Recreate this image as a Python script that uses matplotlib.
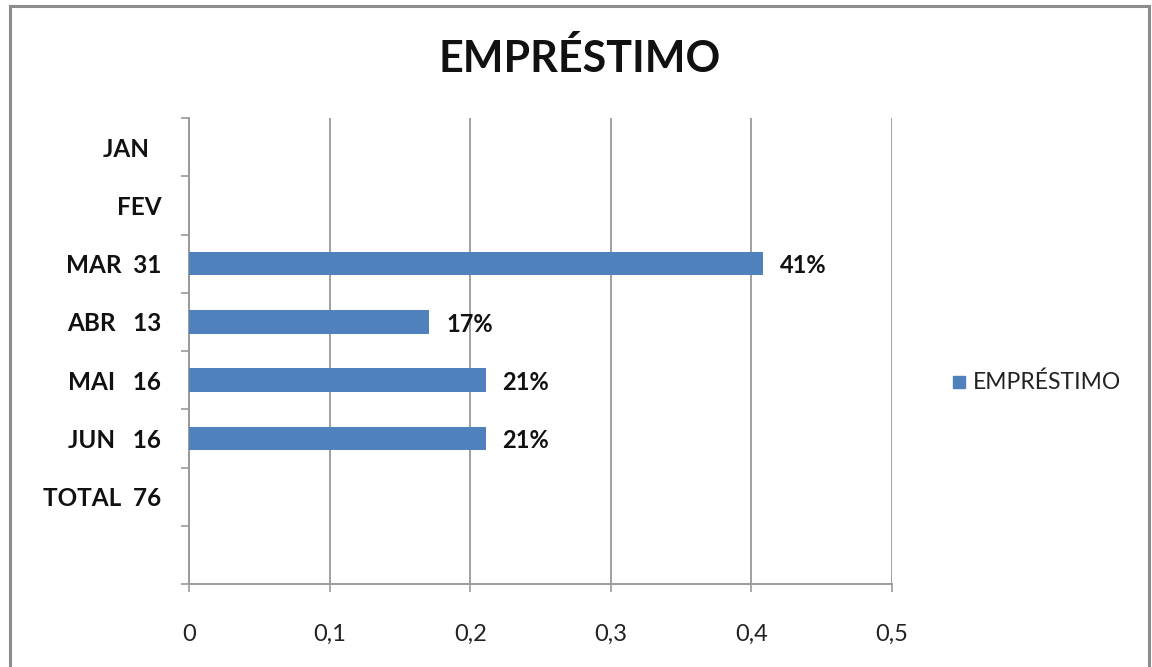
import matplotlib
matplotlib.use("Agg")
import matplotlib.pyplot as plt
from matplotlib.patches import Rectangle
from matplotlib.ticker import FixedLocator, FuncFormatter

# Chart data
categories = ["JAN  ", "FEV", "MAR  31", "ABR   13", "MAI   16", "JUN   16", "TOTAL  76", ""]
shares = [None, None, 0.408, 0.171, 0.211, 0.211, None, None]
x_ticks = [0, 0.1, 0.2, 0.3, 0.4, 0.5]
title = "EMPRÉSTIMO"
series_name = "EMPRÉSTIMO"

BAR_COLOR = "#4F81BD"
GRID_COLOR = "#868686"
AXIS_COLOR = "#9a9a9a"
FRAME_COLOR = "#8c8c8c"
FONT = ["Lato", "DejaVu Sans"]

plt.rcParams["font.family"] = FONT

W, H = 1152, 667
fig = plt.figure(figsize=(W / 100, H / 100), dpi=100)
fig.patch.set_facecolor("white")

# Outer chart border (left, top, right)
fig.add_artist(plt.Line2D([10 / W, 10 / W], [0, 1 - 6 / H], color=FRAME_COLOR, lw=2.2,
                          transform=fig.transFigure))
fig.add_artist(plt.Line2D([10 / W, 1149 / W], [1 - 6 / H, 1 - 6 / H], color=FRAME_COLOR,
                          lw=2.2, transform=fig.transFigure))
fig.add_artist(plt.Line2D([1149 / W, 1149 / W], [0, 1 - 6 / H], color=FRAME_COLOR, lw=2.2,
                          transform=fig.transFigure))

left, right = 189 / W, 892 / W
bottom, top = 1 - 584 / H, 1 - 118 / H
ax = fig.add_axes([left, bottom, right - left, top - bottom])

positions = list(range(len(categories)))
for pos, val in zip(positions, shares):
    if val is None:
        continue
    ax.barh(pos, val, height=0.4, color=BAR_COLOR, zorder=3)
    ax.text(val + 0.012, pos + 0.04, f"{val:.0%}", va="center", ha="left",
            fontsize=17, fontweight="bold", color="#111111", zorder=4)

ax.set_xlim(0, 0.5)
ax.set_ylim(len(categories) - 0.5, -0.5)

ax.set_xticks(x_ticks)
ax.xaxis.set_major_formatter(FuncFormatter(lambda v, p: ("%g" % v).replace(".", ",")))
ax.set_yticks(positions)
ax.set_yticklabels(categories)
ax.yaxis.set_minor_locator(FixedLocator([p - 0.5 for p in positions] + [len(categories) - 0.5]))

ax.tick_params(axis="y", which="major", length=0, pad=20, labelsize=17.5)
for lbl in ax.get_yticklabels():
    lbl.set_fontweight("bold")
    lbl.set_color("#111111")
ax.tick_params(axis="y", which="minor", length=6, width=1.2, color=AXIS_COLOR)
ax.tick_params(axis="x", which="major", length=6, width=1.2, color=AXIS_COLOR,
               pad=23, labelsize=17, labelcolor="#222222")

ax.grid(axis="x", color=GRID_COLOR, lw=1.1, zorder=0)
ax.set_axisbelow(True)
for side in ("top", "right"):
    ax.spines[side].set_visible(False)
for side in ("left", "bottom"):
    ax.spines[side].set_color(AXIS_COLOR)
    ax.spines[side].set_linewidth(1.4)

fig.text(580 / W, 1 - 58 / H, title, ha="center", va="center", fontsize=31,
         fontweight="bold", color="#111111")

# Legend
fig.add_artist(Rectangle((953 / W, 1 - 388 / H), 12 / W, 12 / H, color=BAR_COLOR,
                         transform=fig.transFigure))
fig.text(973 / W, 1 - 382 / H, series_name, ha="left", va="center", fontsize=16.5,
         color="#222222")

fig.savefig("out.png", dpi=100, facecolor="white")
